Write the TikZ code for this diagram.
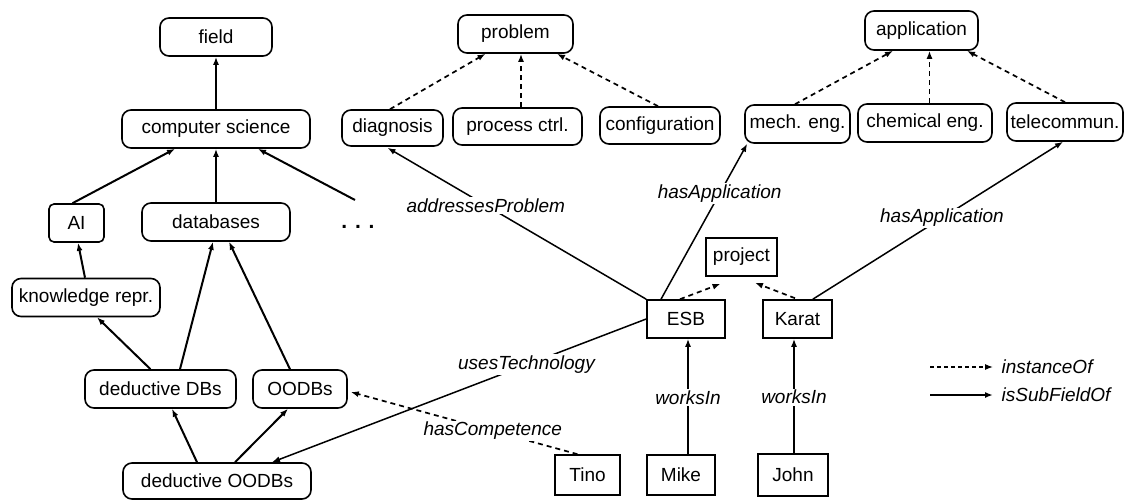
\documentclass[tikz,border=0pt]{standalone}
\usepackage{fontspec}
\setmainfont{Liberation Sans}
\usetikzlibrary{arrows.meta,calc}
\begin{document}
\begin{tikzpicture}[x=1pt,y=-1pt,
  txt/.style={font=\fontsize{19}{23}\selectfont},
  cls/.style={txt,draw,line width=1.6pt,rounded corners=9pt,minimum height=38pt,inner sep=0pt},
  inst/.style={txt,draw,line width=1.6pt,minimum height=38pt,inner sep=0pt},
  lbl/.style={txt,font=\fontsize{19}{23}\selectfont\itshape,fill=white,inner sep=1.5pt},
  tip/.style={-{Latex[length=8pt,width=6pt]}},
  sub/.style={tip,line width=2pt},
  rel/.style={tip,line width=1.5pt},
  inof/.style={tip,line width=1.7pt,dash pattern=on 5pt off 4pt},
]
\useasboundingbox (0,0) rectangle (1135,500);
% class hierarchy (fields)
\node[cls,minimum width=112pt] (field) at (216,37) {field};
\node[cls,minimum width=188pt] (cs) at (216,129) {computer science};
\node[cls,minimum width=55pt,rounded corners=5pt] (ai) at (76.5,223) {AI};
\node[cls,minimum width=148pt] (db) at (216,222) {databases};
\node[txt,font=\fontsize{21}{23}\selectfont\bfseries] (dots) at (358,227) {. . .};
\coordinate (dotsend) at (355,200);
\node[cls,minimum width=148pt] (kr) at (86,297.5) {knowledge repr.};
\node[cls,minimum width=151pt] (ddb) at (160.5,389) {deductive DBs};
\node[cls,minimum width=94pt] (oodb) at (300,389) {OODBs};
\node[cls,minimum width=188pt,minimum height=36pt] (doodb) at (217,481) {deductive OODBs};
% problems
\node[cls,minimum width=115pt] (problem) at (515.5,34) {problem};
\node[cls,minimum width=101pt,minimum height=36pt] (diag) at (392.5,128) {diagnosis};
\node[cls,minimum width=129pt,minimum height=37pt] (proc) at (517.5,126.5) {process ctrl.};
\node[cls,minimum width=120pt,minimum height=37pt] (conf) at (660,125.5) {configuration};
% applications
\node[cls,minimum width=113pt,minimum height=39pt] (app) at (921.5,30.5) {application};
\node[cls,minimum width=105pt] (mech) at (797.5,124) {mech. eng.};
\node[cls,minimum width=134pt] (chem) at (925,123) {chemical eng.};
\node[cls,minimum width=116pt] (tele) at (1065,122) {telecommun.};
% instances
\node[inst,minimum width=71pt] (project) at (741.5,257) {project};
\node[inst,minimum width=78pt] (esb) at (686,319) {ESB};
\node[inst,minimum width=69pt] (karat) at (797.5,319) {Karat};
\node[inst,minimum width=65pt,minimum height=40pt] (tino) at (587.5,475) {Tino};
\node[inst,minimum width=68pt,minimum height=40pt] (mike) at (681,475) {Mike};
\node[inst,minimum width=70pt,minimum height=42pt] (john) at (793,475) {John};
% isSubFieldOf
\draw[sub] (cs.north) -- (field.south);
\draw[sub] ($(ai.north)+(-4,0)$) -- ($(cs.south)+(-41,0)$);
\draw[sub] (db.north) -- (cs.south);
\draw[sub] (dotsend) -- ($(cs.south)+(42,0)$);
\draw[sub] ($(kr.north)+(-1,0)$) -- ($(ai.south)+(1.5,0)$);
\draw[sub] ($(ddb.north)+(-10,0)$) -- ($(kr.south)+(11,0)$);
\draw[sub] ($(ddb.north)+(19.5,0)$) -- ($(db.south)+(-3,0)$);
\draw[sub] ($(oodb.north)+(-10,0)$) -- ($(db.south)+(13,0)$);
\draw[sub] ($(doodb.north)+(-20,0)$) -- ($(ddb.south)+(11.5,0)$);
\draw[sub] ($(doodb.north)+(18,0)$) -- ($(oodb.south)+(-12,0)$);
% instanceOf
\draw[inof] ($(diag.north)+(-2.5,0)$) -- ($(problem.south)+(-30,0)$);
\draw[inof] ($(proc.north)+(3.5,0)$) -- ($(problem.south)+(5.5,0)$);
\draw[inof] ($(conf.north)+(-2,0)$) -- ($(problem.south)+(41.5,0)$);
\draw[inof] ($(mech.north)+(-2.5,0)$) -- ($(app.south)+(-28.5,0)$);
\draw[inof] ($(chem.north)+(4.5,0)$) -- ($(app.south)+(8,0)$);
\draw[inof] (tele.north) -- ($(app.south)+(45.5,0)$);
\draw[inof] ($(esb.north)+(-6,0)$) -- ($(project.south)+(-21,7)$);
\draw[inof] ($(karat.north)+(-2.5,-1)$) -- ($(project.south)+(13.5,6)$);
% relations
\draw[rel] (esb.north west) -- node[lbl,pos=0.62] (lap) {addressesProblem} ($(diag.south)+(-5,1)$);
\draw[rel] ($(esb.north)+(-25,0)$) -- node[lbl,pos=0.68] (lha1) {hasApplication} ($(mech.south west)+(3,0)$);
\draw[rel] ($(karat.north east)+(-20,0)$) -- node[lbl,pos=0.516] (lha2) {hasApplication} ($(tele.south)+(-2,0)$);
\draw[rel] (esb.west) -- node[lbl,pos=0.32] (lut) {usesTechnology} ($(doodb.north)+(55,0)$);
\draw[inof] ($(tino.north)+(-10,0)$) -- node[lbl,pos=0.374] (lhc) {hasCompetence} ($(oodb.east)+(3,3)$);
\draw[rel] ($(mike.north)+(7,0)$) -- node[lbl,pos=0.49] (lw1) {worksIn} ($(esb.south)+(2,0)$);
\draw[rel] ($(john.north)+(1,0)$) -- node[lbl,pos=0.49] (lw2) {worksIn} ($(karat.south)+(-3.5,0)$);
% legend
\coordinate (la1) at (930,367);
\coordinate (la2) at (993,367);
\coordinate (lb1) at (930,395);
\coordinate (lb2) at (993,395);
\draw[tip,line width=1.3pt,dash pattern=on 4pt off 3pt] (la1) -- (la2);
\draw[tip,line width=1.8pt] (lb1) -- (lb2);
\node[lbl,anchor=west,fill=none] (lg1) at (1000,367) {instanceOf};
\node[lbl,anchor=west,fill=none] (lg2) at (1000,395) {isSubFieldOf};
\end{tikzpicture}
\end{document}
